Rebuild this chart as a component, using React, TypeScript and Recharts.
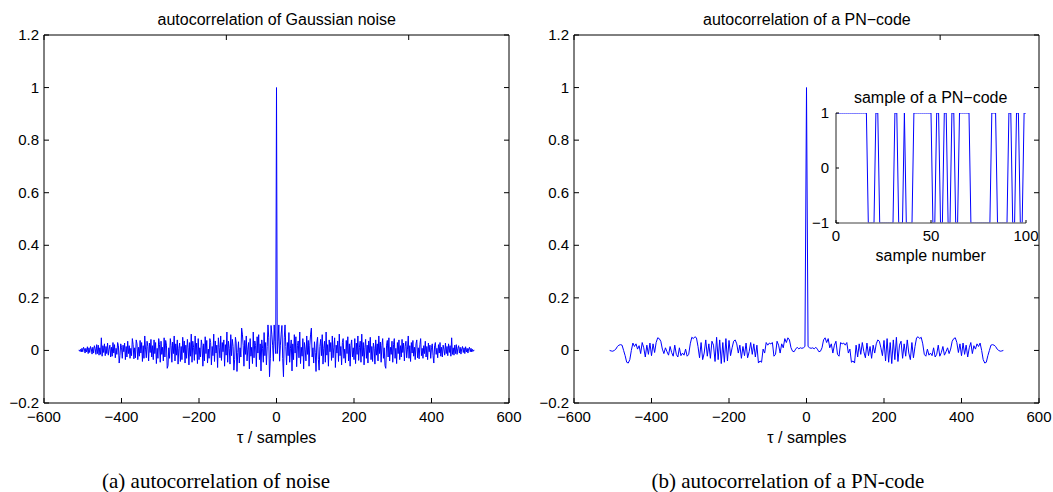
import { LineChart, Line, XAxis, YAxis, ReferenceLine } from "recharts";

// lags are stored for tau >= 0 only (autocorrelation is even), values x1000
const GAUSS_LAG_STEP = 2;
const GAUSS_ACF_MILLI = [
  1000,
  -12, 35, 97, -41, 20, 62, 95, -30, -100, 48,
  97, 15, -55, 30, -20, 68, -45, 8, 40, -78,
  25, -35, 60, -10, 52, -62, 18, 36, -28, 70,
  -50, 12, -22, 45, -70, 30, 5, -40, 55, -15,
  38, -60, 20, 62, 85, -25, 10, -48, 33, -8,
  -80, 28, 50, -35, -75, 15, 42, -20, 60, -52,
  8, 35, -45, 70, -18, 22, -60, 40, -5, 30,
  -38, 55, -28, 12, 48, -65, 20, -10, 36, -42,
  62, -20, 15, -55, 30, 45, -30, 5, -48, 38,
  -12, 52, -40, 25, -60, 18, 40, -25, 10, -35,
  45, -50, 28, -15, 55, -38, 12, 35, -45, 62,
  -22, 30, -55, 10, 42, -30, 20, -48, 36, -8,
  50, -35, 15, -42, 28, 8, -52, 40, -18, 25,
  -40, 55, -12, 32, -45, 18, 45, -30, 10, -58,
  -68, 20, 38, -25, 48, -40, 12, -15, 35, -45,
  22, 45, -30, 8, -50, 30, -12, 40, -35, 18,
  -25, 42, -8, 28, -40, 15, 35, -28, 5, 55,
  -30, 18, -42, 30, -10, 38, -22, 12, -35, 25,
  40, -28, 10, -32, 22, 45, -20, 8, -30, 18,
  -12, 35, -25, 15, -35, 28, -5, 20, -30, 12,
  25, -20, -48, 18, 30, -15, 8, -28, 22, -10,
  30, -22, 12, -25, 20, 5, -18, 28, -12, 15,
  -20, 25, -8, 18, -22, 48, -15, 10, -18, 20,
  -12, 22, -15, 8, 18, -10, 12, -14, 6, 15,
  -8, 10, -12, 14, -6, 8, -10, 6, 12, -5,
  8, -6, 4, -3, 2,
];

const PN_LAG_STEP = 4;
const PN_ACF_MILLI = [
  1000,
  15, 10, 8, 10, 6, 12, 5, -5, -3, 10,
  40, 48, 30, 45, 10, 25, -10, 20, 35, -15,
  -22, 30, 25, 28, 20, 30, -10, 5, -45, -40,
  -48, 20, -25, 25, -15, 30, -5, -28, 28, -20,
  15, -30, 20, -10, 25, 40, 35, 10, -20, 38,
  -40, 45, -45, 30, -50, 40, -35, 50, -42, 20,
  35, -30, 25, -22, 40, -10, -35, 30, -28, 15,
  48, 52, 45, 50, 25, -15, -22, 5, -18, -10,
  -20, 10, -25, -15, 20, -22, -8, 15, -18, -5,
  10, -12, 5, 35, 45, 48, 30, -8, 25, -20,
  28, -15, 20, -25, 10, 30, -12, 18, 5, 25,
  15, 28, 0, -35, -48, -45, -20, 0, 20, 22,
  20, 15, 5, 0, -3, -2, 0,
];

// samples 0..100 of the code shown in the inset
const PN_SAMPLE = [
  1, 1, 1, 1, 1, 1, 1, 1, 1, 1, 1, 1, 1, 1, 1, 1, 1,
  -1, -1, -1, -1, 1, 1, -1, -1, -1, -1, -1, -1, -1, -1,
  1, 1, -1, -1, -1, 1, -1, -1, -1, -1,
  1, 1, 1, 1, 1, 1, 1, 1, 1, 1,
  -1, -1, 1, 1, -1, -1, 1, 1, -1, -1, 1, 1, -1, -1,
  1, 1, 1, 1, 1, 1,
  -1, -1, -1, -1, -1, -1, -1, -1, -1, -1, -1,
  1, 1, 1, -1, -1, -1, -1, -1, -1,
  1, 1, -1, -1, 1, 1, -1, -1, 1, 1,
];

const X_TICKS = [-600, -400, -200, 0, 200, 400, 600];
const Y_TICKS = [-0.2, 0, 0.2, 0.4, 0.6, 0.8, 1, 1.2];
const INSET_X_TICKS = [0, 50, 100];
const INSET_Y_TICKS = [-1, 0, 1];

const SANS = "'Liberation Sans', Arial, Helvetica, sans-serif";
const BLUE = "#0000ff";
const TICK = 5;

function twoSided(half: number[], step: number) {
  const out: { tau: number; r: number }[] = [];
  for (let i = half.length - 1; i > 0; i--) out.push({ tau: -i * step, r: half[i] / 1000 });
  for (let i = 0; i < half.length; i++) out.push({ tau: i * step, r: half[i] / 1000 });
  return out;
}

const gaussData = twoSided(GAUSS_ACF_MILLI, GAUSS_LAG_STEP);
const pnAcfData = twoSided(PN_ACF_MILLI, PN_LAG_STEP);
const pnSampleData = PN_SAMPLE.map((v, i) => ({ n: i, v }));

const fmt = (v: number) => (v < 0 ? "\u2212" + Math.abs(v) : String(v));

// axes get a 1px band (recharts skips 0-size axes); ticks are drawn inward by hand
const BottomTick = ({ x, y, payload, len = TICK, dy = 19 }: any) => (
  <g>
    <line x1={x} x2={x} y1={y} y2={y - len} stroke="#000" />
    <text x={x} y={y + dy} textAnchor="middle" fontSize={15} fontFamily={SANS} fill="#000">{fmt(payload.value)}</text>
  </g>
);
const TopTick = ({ x, y }: any) => <line x1={x} x2={x} y1={y} y2={y + TICK} stroke="#000" />;
const LeftTick = ({ x, y, payload, len = TICK, gap = 5 }: any) => (
  <g>
    <line x1={x} x2={x + len} y1={y} y2={y} stroke="#000" />
    <text x={x - gap} y={y + 5} textAnchor="end" fontSize={15} fontFamily={SANS} fill="#000">{fmt(payload.value)}</text>
  </g>
);
const RightTick = ({ x, y }: any) => <line x1={x} x2={x - TICK} y1={y} y2={y} stroke="#000" />;

function Text({ cx, cy, children, size = 16, serif = false }: any) {
  const h = Math.round(size * 1.2);
  return (
    <div style={{ position: "absolute", left: cx - 300, width: 600, top: cy - h / 2, lineHeight: `${h}px`, fontSize: size, textAlign: "center", whiteSpace: "nowrap", fontFamily: serif ? "'Liberation Serif', 'DejaVu Serif', serif" : SANS, color: "#000" }}>
      {children}
    </div>
  );
}

const axisProps = { tickSize: 0, tickMargin: 0, tickLine: false, interval: 0 as const, axisLine: { stroke: "#000" }, allowDataOverflow: true };

function Panel({ data, left, width, margin }: any) {
  return (
    <div style={{ position: "absolute", left, top: 0 }}>
      <LineChart width={width} height={492} data={data} margin={margin}>
        <XAxis xAxisId="b" type="number" dataKey="tau" domain={[-600, 600]} ticks={X_TICKS} height={1} {...axisProps} tick={(p: any) => <BottomTick {...p} />} />
        <XAxis xAxisId="t" orientation="top" type="number" domain={[-600, 600]} ticks={X_TICKS} height={1} {...axisProps} tick={(p: any) => <TopTick {...p} />} />
        <YAxis yAxisId="l" type="number" domain={[-0.2, 1.2]} ticks={Y_TICKS} width={1} {...axisProps} tick={(p: any) => <LeftTick {...p} />} />
        <YAxis yAxisId="r" orientation="right" type="number" domain={[-0.2, 1.2]} ticks={Y_TICKS} width={1} {...axisProps} tick={(p: any) => <RightTick {...p} />} />
        <Line xAxisId="b" yAxisId="l" type="linear" dataKey="r" stroke={BLUE} strokeWidth={1} dot={false} activeDot={false} isAnimationActive={false} />
      </LineChart>
    </div>
  );
}

export default function App() {
  return (
    <div style={{ position: "absolute", left: 0, top: 0, width: 1053, height: 492, background: "#fff", overflow: "hidden" }}>
      <Panel data={gaussData} left={0} width={532} margin={{ top: 34, right: 22, bottom: 88, left: 43 }} />
      <Panel data={pnAcfData} left={520} width={533} margin={{ top: 34, right: 13, bottom: 88, left: 53 }} />

      <div style={{ position: "absolute", left: 780, top: 80 }}>
        <LineChart width={260} height={190} data={pnSampleData} margin={{ top: 33, right: 14, bottom: 46, left: 55 }}>
          <XAxis type="number" dataKey="n" domain={[0, 100]} ticks={INSET_X_TICKS} height={1} {...axisProps} axisLine={{ stroke: "#808080" }} tick={(p: any) => <BottomTick {...p} len={3} dy={18} />} />
          <YAxis type="number" domain={[-1, 1]} ticks={INSET_Y_TICKS} width={1} {...axisProps} axisLine={{ stroke: "#222" }} tick={(p: any) => <LeftTick {...p} len={3} gap={7} />} />
          <Line type="linear" dataKey="v" stroke={BLUE} strokeWidth={1} dot={false} activeDot={false} isAnimationActive={false} />
          <ReferenceLine y={-1} stroke="#808080" />
        </LineChart>
      </div>

      <Text cx={276.7} cy={19}>autocorrelation of Gaussian noise</Text>
      <Text cx={806.9} cy={19}>autocorrelation of a PN−code</Text>
      <Text cx={276.7} cy={437}>τ / samples</Text>
      <Text cx={806.9} cy={437}>τ / samples</Text>
      <Text cx={930.7} cy={97}>sample of a PN−code</Text>
      <Text cx={930.7} cy={255}>sample number</Text>
      <Text cx={216} cy={481} size={21} serif>(a) autocorrelation of noise</Text>
      <Text cx={788} cy={481} size={21} serif>(b) autocorrelation of a PN-code</Text>
    </div>
  );
}
